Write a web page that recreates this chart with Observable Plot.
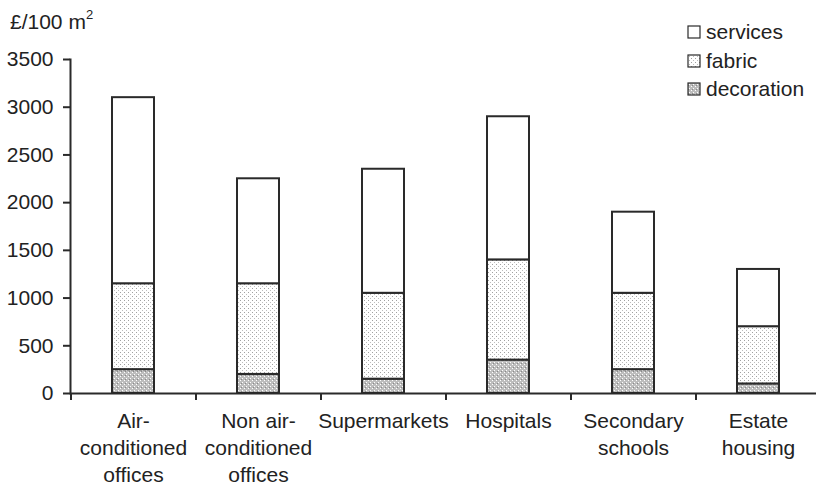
<!DOCTYPE html>
<html>
<head>
<meta charset="utf-8">
<script src="https://cdn.jsdelivr.net/npm/d3@7"></script>
<script src="https://cdn.jsdelivr.net/npm/@observablehq/plot@0.6"></script>
<style>
  html, body { margin: 0; padding: 0; background: #fff; }
  #wrap { position: relative; width: 816px; height: 487px; font-family: "Liberation Sans", Arial, Helvetica, sans-serif; color: #222; }
  #title { position: absolute; left: 10px; top: 5px; font-size: 21px; line-height: 24px; }
  #title sup { font-size: 13px; position: relative; top: -2px; }
  #legend { position: absolute; left: 687px; top: 18px; font-size: 21px; }
  .lg { display: flex; align-items: center; height: 28.5px; }
  .lg svg { margin-right: 5px; }
  #chart { position: absolute; left: 0; top: 0; }
</style>
</head>
<body>
<div id="wrap">
  <div id="chart"></div>
  <div id="title">£/100 m<sup>2</sup></div>
  <div id="legend"></div>
</div>
<script>
const categories = ["Air-\nconditioned\noffices", "Non air-\nconditioned\noffices", "Supermarkets", "Hospitals", "Secondary\nschools", "Estate\nhousing"];
const seriesNames = ["decoration", "fabric", "services"];
const decoration = [250, 200, 150, 350, 250, 100];
const fabric = [900, 950, 900, 1050, 800, 600];
const services = [1950, 1100, 1300, 1500, 850, 600];
const yTicks = [0, 500, 1000, 1500, 2000, 2500, 3000, 3500];
const legendOrder = ["services", "fabric", "decoration"];

const seriesValues = {decoration, fabric, services};
const data = [];
for (const s of seriesNames) {
  categories.forEach((c, i) => data.push({cat: c, series: s, value: seriesValues[s][i]}));
}
const fills = {decoration: "url(#patDeco)", fabric: "url(#patFabric)", services: "#ffffff"};

const ink = "#2a2a2a";
const plot = Plot.plot({
  width: 816,
  height: 487,
  marginLeft: 70,
  marginRight: 0,
  marginTop: 59,
  marginBottom: 94,
  style: {fontFamily: '"Liberation Sans", Arial, Helvetica, sans-serif', fontSize: "21px", color: "#222", background: "transparent", overflow: "visible"},
  x: {domain: categories, range: [70, 820], paddingInner: 0.664, paddingOuter: 0.332},
  y: {domain: [0, 3500]},
  color: {type: "ordinal", domain: seriesNames, range: seriesNames.map(s => fills[s])},
  marks: [
    Plot.barY(data, {x: "cat", y: "value", fill: "series", stroke: ink, strokeWidth: 2, order: seriesNames}),
    Plot.ruleY([0], {stroke: ink, strokeWidth: 2}),
    Plot.frame({anchor: "left", stroke: ink, strokeWidth: 2}),
    Plot.ruleX(categories, {x: d => d, y1: 0, y2: 0, dx: -62.5, insetBottom: -7, stroke: ink, strokeWidth: 2}),
    Plot.axisY({ticks: yTicks, tickSize: 7, tickPadding: 10, fontSize: 21, label: null, stroke: ink, strokeWidth: 2, tickFormat: d => String(d)}),
    Plot.axisX({tickSize: 0, tickPadding: 16, fontSize: 21, label: null, lineHeight: 1.27})
  ]
});

const defs = `
<defs>
  <pattern id="patFabric" width="4" height="4" patternUnits="userSpaceOnUse">
    <rect width="4" height="4" fill="#ffffff"/>
    <rect x="0" y="0" width="1" height="1" fill="#a0a0a0"/>
    <rect x="2" y="2" width="1" height="1" fill="#bdbdbd"/>
  </pattern>
  <pattern id="patDeco" width="4" height="4" patternUnits="userSpaceOnUse">
    <rect width="4" height="4" fill="#bdbdbd"/>
    <rect x="0" y="0" width="1" height="1" fill="#ffffff"/>
    <rect x="2" y="2" width="1" height="1" fill="#ffffff"/>
    <rect x="1" y="3" width="1" height="1" fill="#8a8a8a"/>
  </pattern>
</defs>`;
plot.insertAdjacentHTML("afterbegin", defs);
document.getElementById("chart").appendChild(plot);

const legend = document.getElementById("legend");
for (const s of legendOrder) {
  const row = document.createElement("div");
  row.className = "lg";
  row.innerHTML = `<svg width="14" height="14"><rect x="1" y="1" width="12" height="12" fill="${fills[s]}" stroke="${ink}" stroke-width="1.2"/></svg><span>${s}</span>`;
  legend.appendChild(row);
}
</script>
</body>
</html>
